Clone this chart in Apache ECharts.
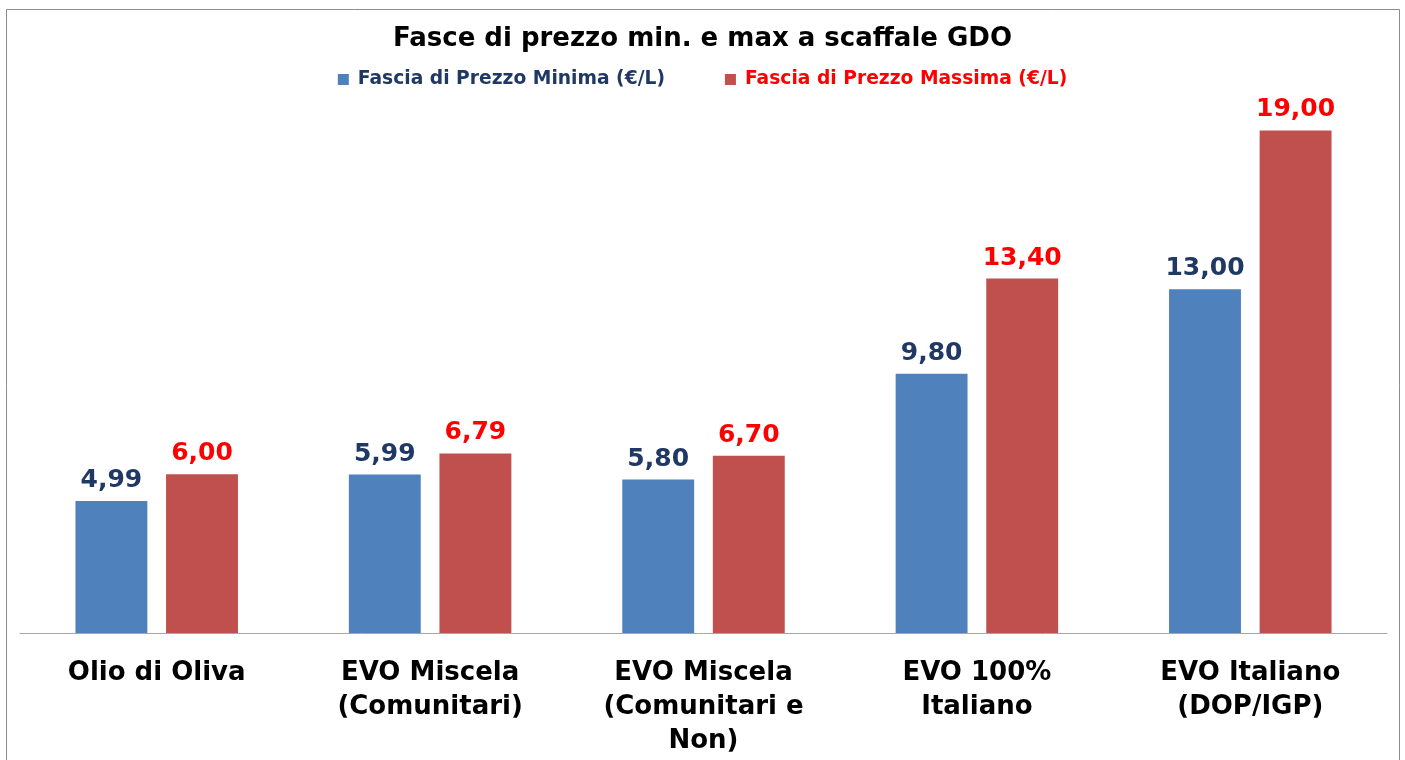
<!DOCTYPE html>
<html><head><meta charset="utf-8">
<script src="https://cdn.jsdelivr.net/npm/echarts@6/dist/echarts.min.js"></script>
<style>html,body{margin:0;padding:0;background:#fff}#c{width:1405px;height:760px}</style>
</head><body><div id="c"></div>
<script>
const categories = ["Olio di Oliva", "EVO Miscela\n(Comunitari)", "EVO Miscela\n(Comunitari e\nNon)", "EVO 100%\nItaliano", "EVO Italiano\n(DOP/IGP)"];
const minPrices = [4.99, 5.99, 5.80, 9.80, 13.00];
const maxPrices = [6.00, 6.79, 6.70, 13.40, 19.00];
const seriesNames = ["Fascia di Prezzo Minima (€/L)", "Fascia di Prezzo Massima (€/L)"];
const titleText = "Fasce di prezzo min. e max a scaffale GDO";

const FONT = "DejaVu Sans";
const fmt = v => v.value.toFixed(2).replace('.', ',');
const chart = echarts.init(document.getElementById('c'), null, {renderer: 'canvas'});
chart.setOption({
  animation: false,
  backgroundColor: '#fff',
  title: {
    text: titleText, left: 'center', top: 21,
    textStyle: {fontFamily: FONT, fontWeight: 'bold', fontSize: 26, color: '#000'}
  },
  legend: {
    top: 65, left: 'center', itemGap: 60, itemWidth: 11, itemHeight: 11, icon: 'rect',
    data: [
      {name: seriesNames[0], textStyle: {color: '#1F3864'}},
      {name: seriesNames[1], textStyle: {color: '#FF0000'}}
    ],
    textStyle: {fontFamily: FONT, fontWeight: 'bold', fontSize: 18.7, padding: [0, 0, 0, 4]}
  },
  graphic: [{
    type: 'rect', shape: {x: 6.5, y: 9.5, width: 1393, height: 800},
    style: {fill: 'none', stroke: '#8c8c8c', lineWidth: 1}, silent: true
  }],
  grid: {left: 20, right: 18, top: 104, bottom: 127, containLabel: false},
  xAxis: {
    type: 'category', data: categories,
    axisLine: {lineStyle: {color: '#a6a6a6', width: 1}},
    axisTick: {show: false},
    axisLabel: {fontFamily: FONT, fontWeight: 'bold', fontSize: 26, color: '#000', lineHeight: 34, margin: 23, interval: 0}
  },
  yAxis: {type: 'value', min: 0, max: 20, show: false, splitLine: {show: false}},
  series: [
    {
      name: seriesNames[0], type: 'bar', data: minPrices, barWidth: '26.3%', barGap: '26%',
      itemStyle: {color: '#4F81BD'},
      label: {show: true, position: 'top', distance: 8, formatter: fmt, fontFamily: FONT, fontWeight: 'bold', fontSize: 25, color: '#1F3864'}
    },
    {
      name: seriesNames[1], type: 'bar', data: maxPrices, barWidth: '26.3%', barGap: '26%',
      itemStyle: {color: '#C0504D'},
      label: {show: true, position: 'top', distance: 8, formatter: fmt, fontFamily: FONT, fontWeight: 'bold', fontSize: 25, color: '#FF0000'}
    }
  ]
});
</script></body></html>
